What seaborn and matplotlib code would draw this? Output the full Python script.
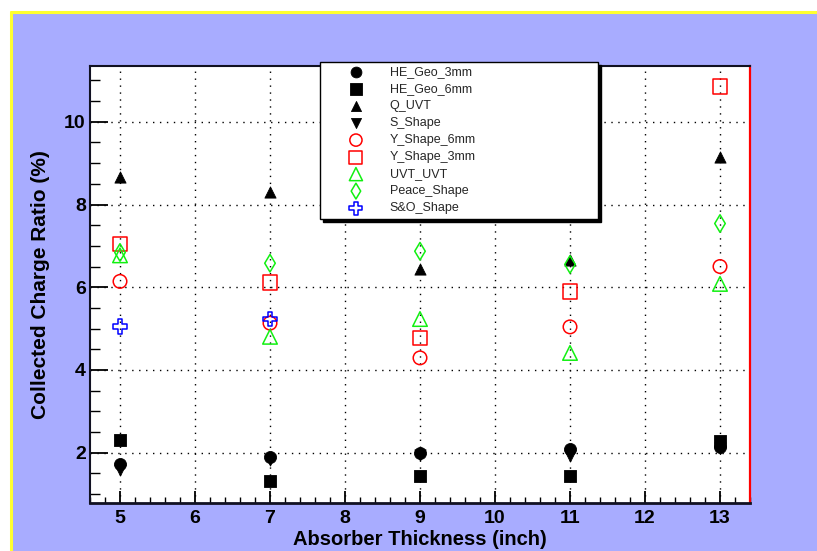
"""
Collected charge ratio vs absorber thickness, ROOT-style scatter.
"""
import numpy as np
import pandas as pd
import matplotlib
matplotlib.use("Agg")
import matplotlib.pyplot as plt
from matplotlib.patches import Rectangle
from matplotlib.lines import Line2D
from matplotlib.ticker import MultipleLocator
import seaborn as sns

# data
thickness = [5, 7, 9, 11, 13]
he_geo_3mm = [1.72, 1.90, 1.98, 2.09, 2.14]
he_geo_6mm = [2.31, 1.31, 1.43, 1.43, 2.28]
q_uvt = [8.67, 8.30, 6.43, 6.66, 9.16]
s_shape = [1.58, 1.82, 1.95, 1.92, 2.12]
y_shape_6mm = [6.14, 5.13, 4.29, 5.04, 6.50]
y_shape_3mm = [7.04, 6.12, 4.77, 5.90, 10.86]
uvt_uvt = [6.77, 4.80, 5.23, 4.41, 6.08]
peace_shape = [6.84, 6.58, 6.87, 6.55, 7.54]
so_thickness = [5, 7]
so_shape = [5.05, 5.23]

series = [
    ("HE_Geo_3mm", thickness, he_geo_3mm),
    ("HE_Geo_6mm", thickness, he_geo_6mm),
    ("Q_UVT", thickness, q_uvt),
    ("S_Shape", thickness, s_shape),
    ("Y_Shape_6mm", thickness, y_shape_6mm),
    ("Y_Shape_3mm", thickness, y_shape_3mm),
    ("UVT_UVT", thickness, uvt_uvt),
    ("Peace_Shape", thickness, peace_shape),
    ("S&O_Shape", so_thickness, so_shape),
]

# marker, colour, filled, size
styles = {
    "HE_Geo_3mm": ("o", "black", True, 75),
    "HE_Geo_6mm": ("s", "black", True, 80),
    "Q_UVT": ("^", "black", True, 65),
    "S_Shape": ("v", "black", True, 65),
    "Y_Shape_6mm": ("o", "#ff0000", False, 95),
    "Y_Shape_3mm": ("s", "#ff0000", False, 110),
    "UVT_UVT": ("^", "#11f011", False, 110),
    "Peace_Shape": ("d", "#11f011", False, 80),
    "S&O_Shape": ("P", "#0000ff", False, 110),
}

sns.set_theme(style="white")
BOLD = ["Liberation Sans Narrow", "Liberation Sans", "DejaVu Sans"]
plt.rcParams["font.family"] = ["Liberation Sans", "DejaVu Sans"]

fig = plt.figure(figsize=(8.17, 5.51), dpi=100, facecolor="white")
# pad background + yellow edge on top and left only
fig.patches.append(Rectangle((11 / 817, 0), 1, 1 - 12 / 551,
                             transform=fig.transFigure, facecolor="#a8acff",
                             edgecolor="none", zorder=-10))
for xs, ys in [([11 / 817, 1], [1 - 12 / 551] * 2), ([11 / 817] * 2, [0, 1 - 12 / 551])]:
    fig.lines.append(Line2D(xs, ys, transform=fig.transFigure,
                            color="#ffff30", linewidth=2.2, zorder=-5))

ax = fig.add_axes([90 / 817, 1 - 503 / 551, 660 / 817, 437 / 551])
ax.set_facecolor("white")

for name, xs, ys in series:
    mk, col, filled, size = styles[name]
    df = pd.DataFrame({"x": xs, "y": ys})
    sns.scatterplot(data=df, x="x", y="y", ax=ax, marker=mk, s=size,
                    facecolors=col if filled else "none", edgecolor=col,
                    linewidth=0.6 if filled else 1.1, label=name, zorder=3)

ax.set_xlim(4.6, 13.4)
ax.set_ylim(0.78, 11.35)
ax.xaxis.set_major_locator(MultipleLocator(1))
ax.xaxis.set_minor_locator(MultipleLocator(0.2))
ax.yaxis.set_major_locator(MultipleLocator(2))
ax.yaxis.set_minor_locator(MultipleLocator(0.5))

ax.grid(True, which="major", color="black", linestyle=(0, (1, 4)), linewidth=1)
ax.tick_params(axis="y", which="major", direction="in", length=13, width=1.3,
               color="black", pad=3, left=True)
ax.tick_params(axis="y", which="minor", direction="in", length=7, width=1,
               color="black", left=True)
ax.tick_params(axis="x", which="major", direction="in", length=8.5, width=1.3,
               color="black", pad=5, bottom=True)
ax.tick_params(axis="x", which="minor", direction="in", length=4, width=1,
               color="black", bottom=True)
for lab in ax.get_xticklabels() + ax.get_yticklabels():
    lab.set_family(BOLD)
    lab.set_fontweight("bold")
    lab.set_fontsize(14)
    lab.set_color("black")

for side in ["left", "top", "bottom"]:
    ax.spines[side].set_color("#111122")
    ax.spines[side].set_linewidth(1.5)
ax.spines["bottom"].set_linewidth(2)
ax.spines["right"].set_color("#ff0000")
ax.spines["right"].set_linewidth(1.6)

ax.set_xlabel("Absorber Thickness (inch)", family=BOLD, fontweight="bold",
              fontsize=14.5, color="black", labelpad=2)
ax.set_ylabel("Collected Charge Ratio (%)", family=BOLD, fontweight="bold",
              fontsize=15, color="black", labelpad=10)

leg = ax.legend(loc="upper left", mode="expand",
                bbox_to_anchor=(320 / 817, 1 - 216 / 551, 278 / 817, 154 / 551),
                bbox_transform=fig.transFigure, borderaxespad=0,
                frameon=True, fancybox=False, framealpha=1, edgecolor="black",
                shadow={"color": "black", "alpha": 1}, fontsize=9,
                handlelength=5.05, handletextpad=0.19, borderpad=0.35,
                labelspacing=0.4, scatterpoints=1, markerscale=0.9)
leg.get_frame().set_linewidth(1)
leg.set_zorder(10)

fig.savefig("out.png", dpi=100, facecolor=fig.get_facecolor())
